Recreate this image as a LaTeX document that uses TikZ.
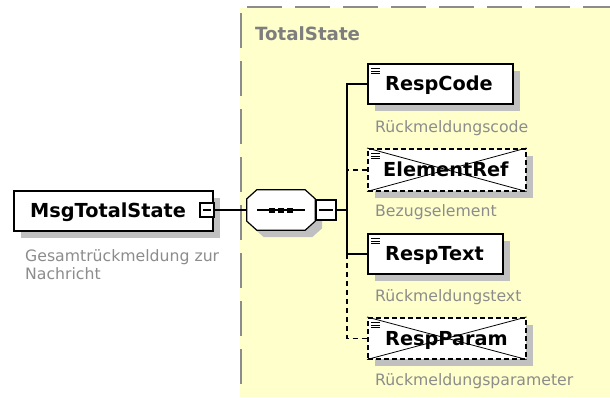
\documentclass[tikz,border=0pt]{standalone}
\usepackage{fontspec}
\setmainfont{DejaVu Sans}
\usetikzlibrary{calc,shadows}
\definecolor{ylw}{RGB}{255,255,204}
\definecolor{bordergrey}{RGB}{140,140,140}
\definecolor{shadowgrey}{RGB}{192,192,192}
\definecolor{descgrey}{RGB}{140,140,140}
\begin{document}
\begin{tikzpicture}[x=1pt,y=-1pt,
  elbox/.style={draw=black, line width=1.6pt, fill=white, anchor=north west,
    minimum height=40pt, inner sep=0pt,
    drop shadow={shadow xshift=7pt, shadow yshift=-7pt, fill=shadowgrey, opacity=1}},
  optbox/.style={elbox, line width=1.5pt, dash pattern=on 5pt off 3pt},
  icon/.style={path picture={\foreach \d in {5,7.5,10}
      \draw[black, solid, line width=0.9pt] ($(path picture bounding box.north west)+(3.5,\d)$) -- ++(9,0);}},
  lbl/.style={font=\fontsize{19.3}{23}\selectfont\bfseries, inner sep=0pt, anchor=base west},
  desc/.style={font=\fontsize{15.7}{18}\selectfont, text=descgrey, inner sep=0pt, anchor=base west},
  minusbox/.style={draw=black, fill=white, line width=1.2pt, inner sep=0pt,
    path picture={\draw[black, line width=1.1pt] ($(path picture bounding box.west)+(3,0)$) -- ($(path picture bounding box.east)+(-3,0)$);}},
  conn/.style={black, line width=1.5pt},
  optconn/.style={black, line width=1.5pt, dash pattern=on 5pt off 4pt}
]
% canvas
\fill[white] (0,0) rectangle (610,397);
\useasboundingbox (0,0) rectangle (610,397);
% group area
\fill[ylw] (240,8) rectangle (610,397);
\draw[bordergrey, line width=2pt, dash pattern=on 35pt off 13pt] (247,7) -- (610,7);
\draw[bordergrey, line width=2pt, dash pattern=on 35pt off 13pt] (241,13) -- (241,397);
\node[font=\fontsize{18.2}{22}\selectfont\bfseries, text=bordergrey!90!black, inner sep=0pt, anchor=base west] (grp) at (255,40) {TotalState};

% root element
\node[elbox, minimum width=199pt] (mts) at (13,190) {};
\node[lbl] (mts-t) at ($(mts.west)+(17,7)$) {MsgTotalState};
\node[minusbox, minimum size=14pt] (mts-m) at (207,210) {};
\node[desc] (mts-d1) at (25,261) {Gesamtrückmeldung zur};
\node[desc] (mts-d2) at (25,279) {Nachricht};

% sequence compositor
\node[minimum width=68pt, minimum height=40pt, inner sep=0pt] (seq) at (281,210) {};
\fill[shadowgrey] ($(seq.north west)+(17,7)$) -- ($(seq.north east)+(-3,7)$) -- ($(seq.north east)+(7,16)$)
   -- ($(seq.south east)+(7,-2)$) -- ($(seq.south east)+(-3,7)$) -- ($(seq.south west)+(17,7)$)
   -- ($(seq.south west)+(7,-2)$) -- ($(seq.north west)+(7,16)$) -- cycle;
\draw[black, line width=1.2pt, fill=white] ($(seq.north west)+(10,0)$) -- ($(seq.north east)+(-10,0)$) -- ($(seq.north east)+(0,9)$)
   -- ($(seq.south east)+(0,-9)$) -- ($(seq.south east)+(-10,0)$) -- ($(seq.south west)+(10,0)$)
   -- ($(seq.south west)+(0,-9)$) -- ($(seq.north west)+(0,9)$) -- cycle;
\draw[black, line width=1.2pt] ($(seq.center)+(-24,0)$) -- ($(seq.center)+(24,0)$);
\foreach \dx in {-9,0,9} \fill[black] ($(seq.center)+(\dx-3,-2.5)$) rectangle ($(seq.center)+(\dx+3,2.5)$);
\node[minusbox, minimum size=20pt] (seq-m) at (326,210) {};
\coordinate (bus) at (347,210);

% children
\node[elbox, icon, minimum width=145pt] (rc) at (367,63) {};
\node[lbl] (rc-t) at ($(rc.west)+(18,7)$) {RespCode};
\node[desc] (rc-d) at ($(rc.west)+(8,49)$) {Rückmeldungscode};

\node[optbox, icon, minimum width=158pt, minimum height=42pt] (er) at (367,148) {};
\node[lbl] (er-t) at ($(er.west)+(16,7)$) {ElementRef};
\draw[black, line width=0.8pt] (er.north west) -- (er.south east) (er.north east) -- (er.south west);
\node[desc] (er-d) at ($(er.west)+(8,47)$) {Bezugselement};

\node[elbox, icon, minimum width=135pt] (rt) at (367,233) {};
\node[lbl] (rt-t) at ($(rt.west)+(18,7)$) {RespText};
\node[desc] (rt-d) at ($(rt.west)+(8,48)$) {Rückmeldungstext};

\node[optbox, icon, minimum width=158pt, minimum height=41pt] (rp) at (367,317) {};
\node[lbl] (rp-t) at ($(rp.west)+(18,7)$) {RespParam};
\draw[black, line width=0.8pt] (rp.north west) -- (rp.south east) (rp.north east) -- (rp.south west);
\node[desc] (rp-d) at ($(rp.west)+(8,47)$) {Rückmeldungsparameter};

% connectors
\draw[conn] (mts-m.east) -- (seq.west);
\draw[conn] (seq-m.east) -- (bus);
\draw[conn] (rc.west) -- ++(-20,0) |- (rt.west);
\draw[optconn] (er.west) -- ++(-20,0);
\draw[optconn] ($(rt.west)+(-20,0)$) |- (rp.west);
\end{tikzpicture}
\end{document}
